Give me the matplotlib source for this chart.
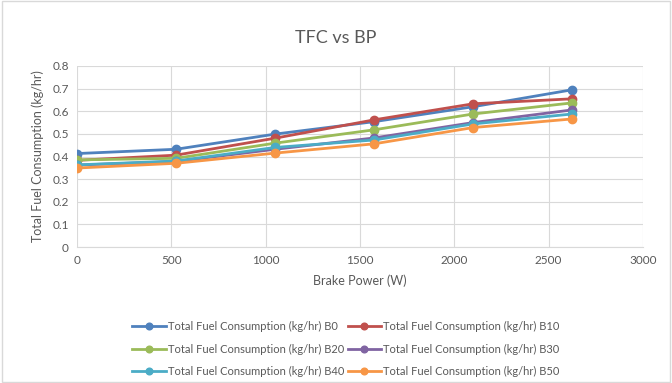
import matplotlib.pyplot as plt
from matplotlib.patches import Rectangle

plt.rcParams['font.family'] = ['Lato', 'DejaVu Sans']

# brake power (W)
bp = [0, 525, 1050, 1575, 2100, 2625]

# total fuel consumption (kg/hr) for each blend
tfc_b0 = [0.413, 0.432, 0.499, 0.554, 0.620, 0.695]
tfc_b10 = [0.383, 0.406, 0.481, 0.562, 0.633, 0.655]
tfc_b20 = [0.385, 0.392, 0.459, 0.518, 0.588, 0.637]
tfc_b30 = [0.362, 0.378, 0.432, 0.482, 0.550, 0.606]
tfc_b40 = [0.363, 0.380, 0.440, 0.473, 0.544, 0.588]
tfc_b50 = [0.349, 0.370, 0.415, 0.456, 0.528, 0.566]

series = [
    ("Total Fuel Consumption (kg/hr) B0", tfc_b0, "#4F81BD"),
    ("Total Fuel Consumption (kg/hr) B10", tfc_b10, "#C0504D"),
    ("Total Fuel Consumption (kg/hr) B20", tfc_b20, "#9BBB59"),
    ("Total Fuel Consumption (kg/hr) B30", tfc_b30, "#8064A2"),
    ("Total Fuel Consumption (kg/hr) B40", tfc_b40, "#4BACC6"),
    ("Total Fuel Consumption (kg/hr) B50", tfc_b50, "#F79646"),
]

txt = "#595959"

fig = plt.figure(figsize=(6.72, 3.83), dpi=100)
ax = fig.add_axes([77/672, 1-247/383, (643-77)/672, (247-66)/383])

lines = []
for name, vals, col in series:
    ln, = ax.plot(bp, vals, color=col, lw=2, marker='o', ms=6, label=name)
    lines.append(ln)

ax.set_xlim(0, 3000)
ax.set_ylim(0, 0.8)
ax.set_xticks(range(0, 3001, 500))
ax.set_yticks([i/10 for i in range(9)])
ax.set_yticklabels(["0", "0.1", "0.2", "0.3", "0.4", "0.5", "0.6", "0.7", "0.8"])
ax.grid(True, color="#D9D9D9", lw=0.8)
ax.set_axisbelow(True)
for s in ax.spines.values():
    s.set_visible(False)
ax.spines['bottom'].set_visible(True)
ax.spines['bottom'].set_color("#D9D9D9")
ax.tick_params(length=0, colors=txt, labelsize=8.5, pad=6)

ax.set_xlabel("Brake Power (W)", color=txt, fontsize=9, labelpad=6)
ax.set_ylabel("Total Fuel Consumption (kg/hr)", color=txt, fontsize=9, labelpad=6)
fig.text(0.5, 1-38/383, "TFC vs BP", ha='center', va='center', color=txt, fontsize=13)

# legend filled row by row, as in the original
order = [0, 2, 4, 1, 3, 5]
fig.legend([lines[i] for i in order], [series[i][0] for i in order],
           loc='center', bbox_to_anchor=(0.515, 1-349/383), ncol=2, frameon=False,
           fontsize=8, labelcolor=txt, handlelength=3, columnspacing=0.3,
           handletextpad=0.2, labelspacing=1.05, markerscale=0.8)

fig.patches.append(Rectangle((0.003, 0.003), 0.994, 0.994, transform=fig.transFigure,
                             fill=False, ec="#D9D9D9", lw=1))

fig.savefig("out.png", dpi=100)
